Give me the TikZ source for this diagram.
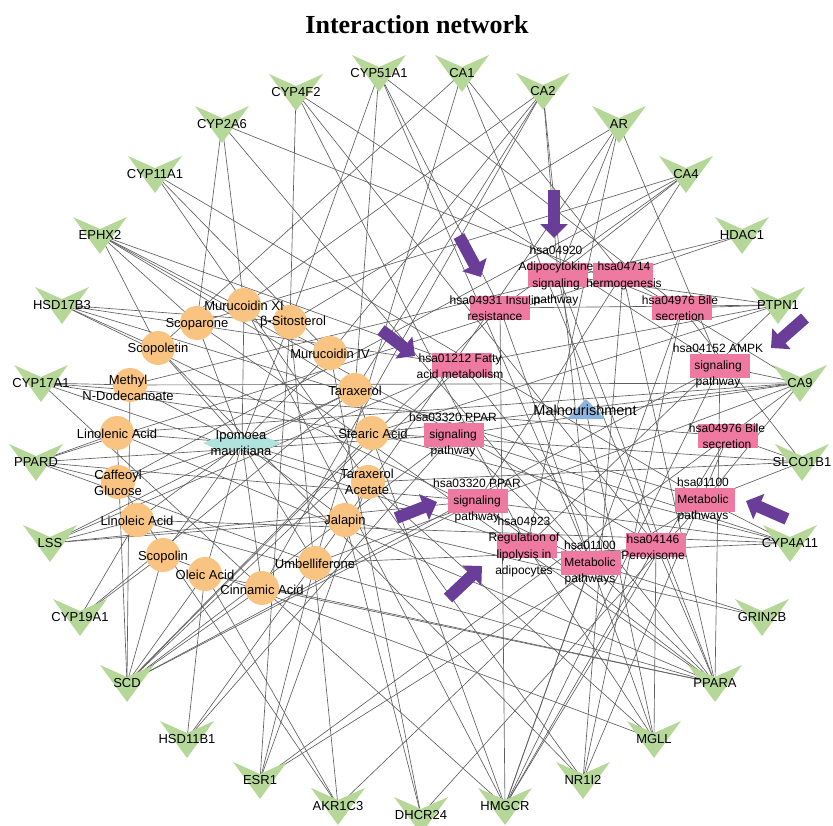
\documentclass[tikz,border=0pt]{standalone}
\usepackage{fontspec}
\setmainfont{Liberation Sans}
\newfontfamily\ttlfont{Liberation Serif}
\usetikzlibrary{arrows.meta}
\pgfdeclarelayer{bg}
\pgfsetlayers{bg,main}
\definecolor{tgreen}{RGB}{181,216,152}
\definecolor{corange}{RGB}{249,196,130}
\definecolor{ppink}{RGB}{238,122,162}
\definecolor{apurple}{RGB}{106,62,152}
\definecolor{icyan}{RGB}{178,226,222}
\definecolor{mblue}{RGB}{140,180,222}
\definecolor{egray}{RGB}{95,95,95}
\newcommand\tgt[3]{\fill[tgreen] (#2) ++(-27,-18) -- ++(27,12) -- ++(27,-12) -- ++(-27,37) -- cycle;
  \node[tlab] (#1) at (#2) {#3};}
\begin{document}
\begin{tikzpicture}[x=1pt,y=-1pt,
  tlab/.style={font=\fontsize{13}{15}\selectfont, inner sep=0pt},
  clab/.style={font=\fontsize{13}{16}\selectfont, align=center, inner sep=0pt},
  plab/.style={font=\fontsize{12}{16.5}\selectfont, align=center, inner sep=0pt},
  cmp/.style={circle, fill=corange, minimum size=34pt, inner sep=0pt},
  pw/.style={rectangle, fill=ppink, minimum width=60pt, minimum height=24pt, inner sep=0pt},
  edge/.style={draw=egray, line width=0.65pt},
  parr/.style={draw=apurple, line width=12pt, -{Triangle[width=27pt,length=14pt]}}]
\useasboundingbox (0,0) rectangle (833,825);

\node[font=\ttlfont\bfseries\fontsize{26}{30}\selectfont, anchor=base] (title) at (417,33) {Interaction network};

% ---------- targets (outer ring)
\tgt{cyp2a6}{222,124}{CYP2A6}
\tgt{cyp4f2}{296,92}{CYP4F2}
\tgt{cyp51a1}{379,73}{CYP51A1}
\tgt{ca1}{462,73}{CA1}
\tgt{ca2}{543,91}{CA2}
\tgt{ar}{619,124}{AR}
\tgt{ca4}{686,174}{CA4}
\tgt{hdac1}{742,235}{HDAC1}
\tgt{ptpn1}{778,305}{PTPN1}
\tgt{ca9}{800,383}{CA9}
\tgt{slco1b1}{802,462}{SLCO1B1}
\tgt{cyp4a11}{790,543}{CYP4A11}
\tgt{grin2b}{762,617}{GRIN2B}
\tgt{ppara}{715,683}{PPARA}
\tgt{mgll}{654,739}{MGLL}
\tgt{nr1i2}{583,780}{NR1I2}
\tgt{hmgcr}{505,806}{HMGCR}
\tgt{dhcr24}{421,815}{DHCR24}
\tgt{akr1c3}{338,806}{AKR1C3}
\tgt{esr1}{260,780}{ESR1}
\tgt{hsd11b1}{187,739}{HSD11B1}
\tgt{scd}{127,683}{SCD}
\tgt{cyp19a1}{80,617}{CYP19A1}
\tgt{lss}{50,543}{LSS}
\tgt{ppard}{36,462}{PPARD}
\tgt{cyp17a1}{41,383}{CYP17A1}
\tgt{hsd17b3}{62,305}{HSD17B3}
\tgt{ephx2}{100,235}{EPHX2}
\tgt{cyp11a1}{155,174}{CYP11A1}

% ---------- disease and herb
\coordinate (mal) at (586,412);
\fill[mblue] (567,419) -- (586,399) -- (605,419) -- cycle;
\coordinate (ipo) at (242,443);
\fill[icyan] (203,443) -- (218,437) -- (266,437) -- (281,443) -- (266,450) -- (218,450) -- cycle;

% ---------- compounds
\node[cmp] (murxi) at (244,305) {};
\node[cmp] (scoparone) at (197,323) {};
\node[cmp] (sitosterol) at (290,322) {};
\node[cmp] (scopoletin) at (158,348) {};
\node[cmp] (murciv) at (330,353) {};
\node[cmp] (methyl) at (130,385) {};
\node[cmp] (taraxerol) at (355,390) {};
\node[cmp] (linolenic) at (117,433) {};
\node[cmp] (stearic) at (372,433) {};
\node[cmp] (caffeoyl) at (118,482) {};
\node[cmp] (taracet) at (368,482) {};
\node[cmp] (linoleic) at (137,520) {};
\node[cmp] (jalapin) at (345,520) {};
\node[cmp] (scopolin) at (163,555) {};
\node[cmp] (umbell) at (315,563) {};
\node[cmp] (oleic) at (205,574) {};
\node[cmp] (cinnamic) at (262,588) {};

% ---------- pathways
\node[pw] (adipo) at (558,275) {};
\node[pw] (thermo) at (623,275) {};
\node[pw] (insulin) at (500,308) {};
\node[pw] (bile1) at (682,308) {};
\node[pw] (fatty) at (462,365) {};
\node[pw] (ampk) at (720,366) {};
\node[pw] (ppar1) at (454,435) {};
\node[pw] (bile2) at (728,436) {};
\node[pw] (ppar2) at (478,501) {};
\node[pw] (metab1) at (705,500) {};
\node[pw] (lipo) at (527,546) {};
\node[pw] (metab2) at (591,563) {};
\node[pw] (perox) at (656,545) {};

% ---------- edges
\begin{pgfonlayer}{bg}
\foreach \b in {murxi,scoparone,sitosterol,scopoletin,murciv,methyl,taraxerol,linolenic,stearic,caffeoyl,taracet,linoleic,jalapin,scopolin,umbell,oleic,cinnamic}
  \draw[edge] (ipo) -- (\b.center);
\foreach \a/\b in {murxi/cyp2a6,murxi/ca2,murxi/hmgcr,
  scoparone/cyp2a6,scoparone/ephx2,scoparone/ca4,scoparone/ppara,
  sitosterol/cyp51a1,sitosterol/cyp4f2,sitosterol/hsd17b3,sitosterol/ar,sitosterol/akr1c3,sitosterol/esr1,
  scopoletin/hsd17b3,scopoletin/ephx2,scopoletin/ca1,scopoletin/nr1i2,
  murciv/cyp11a1,murciv/ca2,murciv/dhcr24,murciv/ephx2,
  methyl/cyp17a1,methyl/hdac1,methyl/scd,methyl/ca9,
  taraxerol/ca2,taraxerol/cyp51a1,taraxerol/hmgcr,taraxerol/lss,taraxerol/cyp19a1,taraxerol/ephx2,
  linolenic/ppard,linolenic/ca9,linolenic/scd,linolenic/ppara,
  stearic/ptpn1,stearic/ca9,stearic/scd,stearic/slco1b1,stearic/cyp4a11,stearic/cyp17a1,
  caffeoyl/ppard,caffeoyl/ca4,caffeoyl/akr1c3,
  taracet/cyp11a1,taracet/slco1b1,taracet/esr1,taracet/nr1i2,taracet/mgll,
  linoleic/lss,linoleic/cyp4a11,linoleic/ppara,linoleic/cyp19a1,
  jalapin/grin2b,jalapin/hsd11b1,jalapin/ar,jalapin/dhcr24,jalapin/lss,
  scopolin/cyp19a1,scopolin/scd,scopolin/mgll,
  umbell/ca1,umbell/ca9,umbell/esr1,umbell/cyp4a11,umbell/ppard,
  oleic/scd,oleic/hsd11b1,oleic/akr1c3,oleic/ppara,
  cinnamic/scd,cinnamic/ppara,cinnamic/hmgcr,cinnamic/cyp17a1,cinnamic/ca2}
  \draw[edge] (\a.center) -- (\b.center);
\foreach \a/\b in {adipo/ca2,adipo/ca4,adipo/ppara,adipo/mgll,adipo/ptpn1,adipo/ar,
  thermo/ca1,thermo/hdac1,thermo/ppara,thermo/nr1i2,thermo/ca9,thermo/ppard,
  insulin/ptpn1,insulin/cyp51a1,insulin/hmgcr,insulin/mgll,insulin/ca4,insulin/scd,
  bile1/ptpn1,bile1/slco1b1,bile1/hmgcr,bile1/cyp2a6,bile1/cyp51a1,bile1/nr1i2,
  fatty/scd,fatty/ephx2,fatty/hsd17b3,fatty/ptpn1,fatty/ppara,fatty/lss,
  ampk/ca9,ampk/scd,ampk/hmgcr,ampk/ppara,ampk/ar,ampk/cyp4f2,
  ppar1/ppard,ppar1/ppara,ppar1/scd,ppar1/ca9,ppar1/cyp4a11,ppar1/hsd11b1,
  bile2/slco1b1,bile2/hmgcr,bile2/ca9,bile2/nr1i2,bile2/cyp17a1,bile2/esr1,
  ppar2/cyp4a11,ppar2/ppara,ppar2/scd,ppar2/lss,ppar2/ppard,ppar2/ca4,
  metab1/cyp4a11,metab1/slco1b1,metab1/ca9,metab1/dhcr24,metab1/hsd17b3,metab1/cyp11a1,metab1/esr1,
  lipo/mgll,lipo/ptpn1,lipo/cyp17a1,lipo/ar,lipo/cyp4f2,
  metab2/hmgcr,metab2/akr1c3,metab2/ca2,metab2/cyp51a1,metab2/grin2b,metab2/cyp2a6,metab2/hsd17b3,
  perox/ephx2,perox/mgll,perox/hmgcr,perox/ppara,perox/cyp4f2,perox/ca1}
  \draw[edge] (\a.center) -- (\b.center);
\end{pgfonlayer}

% ---------- labels
\node[font=\fontsize{14.5}{17}\selectfont, inner sep=0pt] (mal-t) at (585,410) {Malnourishment};
\node[clab] (ipo-t) at (241,443) {Ipomoea\\mauritiana};
\node[clab] (murxi-t) at (244,306) {Murucoidin XI};
\node[clab] (scoparone-t) at (197,324) {Scoparone};
\node[clab] (sitosterol-t) at (293,322) {β-Sitosterol};
\node[clab] (scopoletin-t) at (158,349) {Scopoletin};
\node[clab] (murciv-t) at (330,354) {Murucoidin IV};
\node[clab] (methyl-t) at (128,388) {Methyl\\N-Dodecanoate};
\node[clab] (taraxerol-t) at (355,391) {Taraxerol};
\node[clab] (linolenic-t) at (117,434) {Linolenic Acid};
\node[clab] (stearic-t) at (373,434) {Stearic Acid};
\node[clab] (caffeoyl-t) at (118,483) {Caffeoyl\\Glucose};
\node[clab] (taracet-t) at (367,482) {Taraxerol\\Acetate};
\node[clab] (linoleic-t) at (137,521) {Linoleic Acid};
\node[clab] (jalapin-t) at (345,521) {Jalapin};
\node[clab] (scopolin-t) at (163,557) {Scopolin};
\node[clab] (umbell-t) at (315,564) {Umbelliferone};
\node[clab] (oleic-t) at (205,575) {Oleic Acid};
\node[clab] (cinnamic-t) at (262,590) {Cinnamic Acid};

\node[plab] (adipo-t) at (556,276) {hsa04920\\Adipocytokine\\signaling\\pathway};
\node[plab] (thermo-t) at (624,276) {hsa04714\\hermogenesis};
\node[plab] (insulin-t) at (495,308) {hsa04931 Insulin\\resistance};
\node[plab] (bile1-t) at (680,308) {hsa04976 Bile\\secretion};
\node[plab] (fatty-t) at (460,366) {hsa01212 Fatty\\acid metabolism};
\node[plab] (ampk-t) at (718,366) {hsa04152 AMPK\\signaling\\pathway};
\node[plab] (ppar1-t) at (453,435) {hsa03320 PPAR\\signaling\\pathway};
\node[plab] (bile2-t) at (727,436) {hsa04976 Bile\\secretion};
\node[plab] (ppar2-t) at (477,501) {hsa03320 PPAR\\signaling\\pathway};
\node[plab] (metab1-t) at (703,500) {hsa01100\\Metabolic\\pathways};
\node[plab] (lipo-t) at (524,547) {hsa04923\\Regulation of\\lipolysis in\\adipocytes};
\node[plab] (metab2-t) at (590,563) {hsa01100\\Metabolic\\pathways};
\node[plab] (perox-t) at (653,547) {hsa04146\\Peroxisome};

% ---------- purple highlight arrows
\coordinate (a1s) at (554,190); \coordinate (a1e) at (554,238);
\coordinate (a2s) at (459,236); \coordinate (a2e) at (481,277);
\coordinate (a3s) at (381,330); \coordinate (a3e) at (415,356);
\coordinate (a4s) at (805,318); \coordinate (a4e) at (771,348);
\coordinate (a5s) at (396,518); \coordinate (a5e) at (437,502);
\coordinate (a6s) at (448,598); \coordinate (a6e) at (482,566);
\coordinate (a7s) at (787,519); \coordinate (a7e) at (746,501);
\foreach \i in {1,...,7} \draw[parr] (a\i s) -- (a\i e);
\end{tikzpicture}
\end{document}
